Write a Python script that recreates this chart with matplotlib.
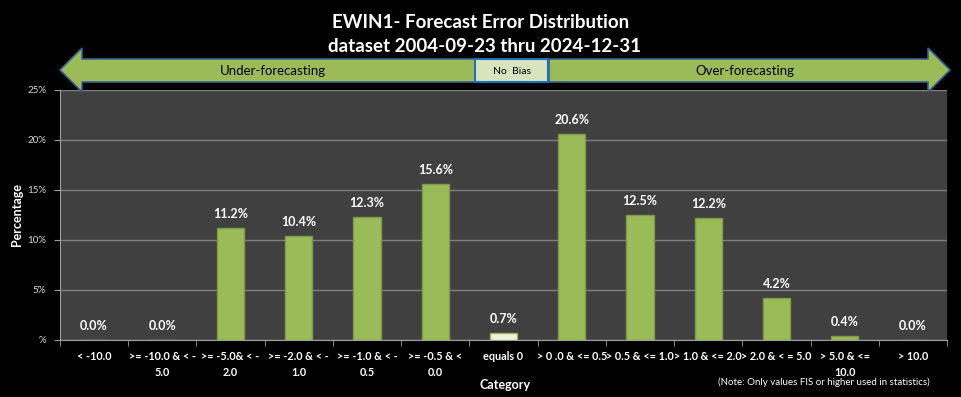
import matplotlib
matplotlib.use("Agg")
from matplotlib import pyplot as plt
from matplotlib.patches import Polygon, Rectangle
import numpy as np

plt.rcParams['font.family'] = ['Lato', 'DejaVu Sans']

categories = ["< -10.0", ">= -10.0 & < -\n5.0", ">= -5.0& < -\n2.0", ">= -2.0 & < -\n1.0",
              ">= -1.0 & < -\n0.5", ">= -0.5 & <\n0.0", "equals 0", "> 0 .0 & <= 0.5",
              "> 0.5 & <= 1.0", "> 1.0 & <= 2.0", "> 2.0 & < = 5.0", "> 5.0 & <=\n10.0", "> 10.0"]
values = [0.0, 0.0, 11.2, 10.4, 12.3, 15.6, 0.7, 20.6, 12.5, 12.2, 4.2, 0.4, 0.0]
yticks = [0, 5, 10, 15, 20, 25]
ytick_labels = ["%", "5%", "10%", "15%", "20%", "25%"]

green = "#9BBB59"
fig = plt.figure(figsize=(9.61, 3.97), dpi=100, facecolor="black")
ax = fig.add_axes([0.0624, 0.1436, 0.923, 0.6297])
ax.set_facecolor("#404040")

x = np.arange(len(categories))
colors = [green] * len(values)
edges = ["#7F9B45"] * len(values)
colors[6] = "#EEF3E2"
edges[6] = "#9BBB59"
ax.bar(x, values, width=0.4, color=colors, edgecolor=edges, linewidth=1, zorder=3)
for xi, v in zip(x, values):
    ax.text(xi, v + 0.8, f"{v:.1f}%", ha="center", va="bottom", color="white",
            fontsize=9, fontweight="bold", zorder=4)

ax.set_xlim(-0.5, len(categories) - 0.5)
ax.set_ylim(0, 25)
ax.set_yticks(yticks)
ax.set_yticklabels(ytick_labels, color="#D9D9D9", fontsize=7)
ax.grid(axis="y", color="#7F7F7F", linewidth=1, zorder=0)
ax.set_xticks(x)
ax.set_xticklabels(categories, color="white", fontsize=7.8, fontweight="bold", linespacing=1.5)
ax.tick_params(axis="x", length=0, pad=8)
ax.set_xticks(np.arange(-0.5, len(categories)), minor=True)
ax.tick_params(axis="x", which="minor", length=4, color="#A0A0A0", direction="out")
ax.tick_params(axis="y", length=4, color="#A0A0A0", pad=6)
for s in ["top", "right"]:
    ax.spines[s].set_visible(False)
for s in ["left", "bottom"]:
    ax.spines[s].set_color("#A0A0A0")

# overlay in pixel coords for titles and arrows
ov = fig.add_axes([0, 0, 1, 1], facecolor="none", zorder=5)
ov.set_xlim(0, 961)
ov.set_ylim(397, 0)
ov.axis("off")

ov.text(481, 22, "EWIN1- Forecast Error Distribution", ha="center", va="center",
        color="white", fontsize=13.5, fontweight="bold")
ov.text(485, 47, "dataset 2004-09-23 thru 2024-12-31", ha="center", va="center",
        color="white", fontsize=13.5, fontweight="bold")

edge_blue = "#3A5F8F"
left_arrow = [(60, 70), (82, 48), (82, 59), (475, 59), (475, 82), (82, 82), (82, 92)]
right_arrow = [(950, 70), (928, 48), (928, 59), (549, 59), (549, 82), (928, 82), (928, 92)]
ov.add_patch(Polygon(left_arrow, closed=True, facecolor=green, edgecolor=edge_blue, linewidth=1.2))
ov.add_patch(Polygon(right_arrow, closed=True, facecolor=green, edgecolor=edge_blue, linewidth=1.2))
ov.add_patch(Rectangle((475, 59), 73, 23, facecolor="#D7E4BD", edgecolor="#1F70B8", linewidth=1.5))
ov.text(273, 71, "Under-forecasting", ha="center", va="center", color="black", fontsize=9.5)
ov.text(745, 71, "Over-forecasting", ha="center", va="center", color="black", fontsize=9.5)
ov.text(512, 71, "No  Bias", ha="center", va="center", color="black", fontsize=7.5)

ov.text(17, 215, "Percentage", ha="center", va="center", rotation=90, color="white",
        fontsize=9, fontweight="bold")
ov.text(505, 385, "Category", ha="center", va="center", color="white", fontsize=9, fontweight="bold")
ov.text(824, 382, "(Note: Only values FIS or higher used in statistics)", ha="center", va="center",
        color="white", fontsize=7)

fig.savefig("out.png", dpi=100, facecolor="black")
